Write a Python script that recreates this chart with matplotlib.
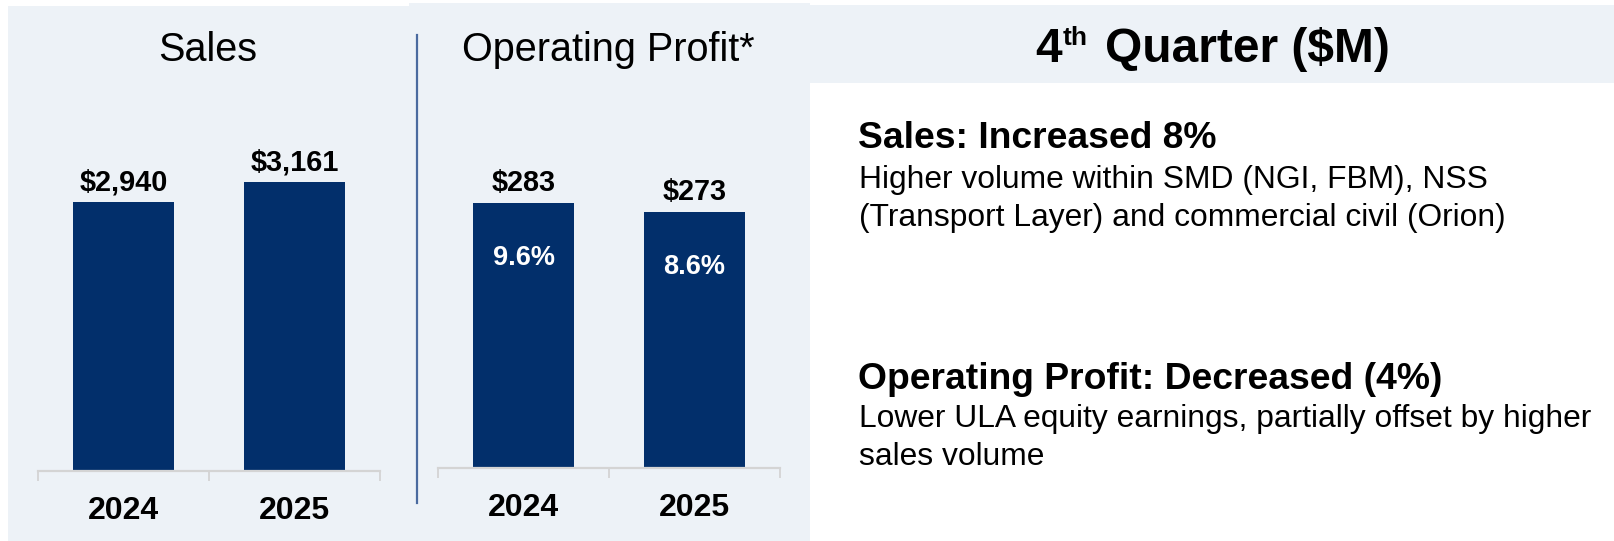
import matplotlib
matplotlib.use("Agg")
import matplotlib.pyplot as plt
from matplotlib.patches import Rectangle
from matplotlib.lines import Line2D

# ---------------- data ----------------
years = ["2024", "2025"]
sales = [2940, 3161]
sales_labels = ["$2,940", "$3,161"]
op_profit = [283, 273]
op_labels = ["$283", "$273"]
op_margin = ["9.6%", "8.6%"]

panel_titles = ["Sales", "Operating Profit*"]
header_main = "4"
header_sup = "th"
header_rest = "Quarter ($M)"
sales_head = "Sales: Increased 8%"
sales_lines = ["Higher volume within SMD (NGI, FBM), NSS",
               "(Transport Layer) and commercial civil (Orion)"]
op_head = "Operating Profit: Decreased (4%)"
op_lines = ["Lower ULA equity earnings, partially offset by higher",
            "sales volume"]

# ---------------- style ----------------
plt.rcParams["font.family"] = ["Liberation Sans", "DejaVu Sans"]
BG = "#edf2f7"
NAVY = "#022f6b"
AXIS = "#d4d4d4"
DIV = "#4a6a9f"

W, H = 1614, 541
fig = plt.figure(figsize=(W / 100, H / 100), dpi=100)
fig.patch.set_facecolor("white")


def fx(x):
    return x / W


def fy(y):
    return 1 - y / H


def rect(x0, y0, x1, y1, color):
    fig.add_artist(Rectangle((fx(x0), fy(y1)), fx(x1) - fx(x0), fy(y0) - fy(y1),
                             transform=fig.transFigure, facecolor=color,
                             edgecolor="none", zorder=0))


# backgrounds
rect(8, 6, 410, 541, BG)
rect(409, 3, 810, 541, BG)
rect(809, 5, 1614, 83, BG)


def bar_panel(left, right, base, top, values, ymax, labels, inner=None):
    ax = fig.add_axes([fx(left), fy(base), fx(right) - fx(left), (base - top) / H])
    ax.set_facecolor("none")
    xs = list(range(len(values)))
    ax.bar(xs, values, width=0.59, color=NAVY, zorder=2)
    ax.set_xlim(-0.5, len(values) - 0.5)
    ax.set_ylim(0, ymax)
    for s in ["top", "left", "right"]:
        ax.spines[s].set_visible(False)
    ax.spines["bottom"].set_color(AXIS)
    ax.spines["bottom"].set_linewidth(1.6)
    ax.set_yticks([])
    ax.set_xticks(xs)
    ax.set_xticklabels([])
    ax.tick_params(axis="x", which="major", length=0)
    ax.set_xticks([i - 0.5 for i in range(len(values) + 1)], minor=True)
    ax.tick_params(axis="x", which="minor", length=7.5, width=1.3,
                   color=AXIS, direction="out")
    for i, (v, lab) in enumerate(zip(values, labels)):
        ax.annotate(lab, xy=(i, v), xytext=(0, 12), textcoords="offset pixels",
                    ha="center", va="baseline", fontsize=20.8, fontweight="bold",
                    color="black", annotation_clip=False)
        ax.annotate(years[i], xy=(i, 0), xytext=(0, -48), textcoords="offset pixels",
                    ha="center", va="baseline", fontsize=23, fontweight="bold",
                    color="black", annotation_clip=False)
        if inner is not None:
            ax.annotate(inner[i], xy=(i, v), xytext=(0, -62), textcoords="offset pixels",
                        ha="center", va="baseline", fontsize=19.5, fontweight="bold",
                        color="white", annotation_clip=False)
    return ax


bar_panel(38, 380, 471, 100, sales, 4060, sales_labels)
bar_panel(438, 780, 468, 100, op_profit, 393, op_labels, inner=op_margin)

# panel titles
fig.text(fx(208), fy(61), panel_titles[0], ha="center", va="baseline", fontsize=28.5)
fig.text(fx(608), fy(61), panel_titles[1], ha="center", va="baseline", fontsize=28.5)

# divider
fig.add_artist(Line2D([fx(416.5), fx(416.5)], [fy(35), fy(503)],
                      transform=fig.transFigure, color=DIV, lw=1.6))

# right header
fig.text(fx(1035), fy(62), header_main, ha="left", va="baseline",
         fontsize=34.5, fontweight="bold")
fig.text(fx(1063), fy(45), header_sup, ha="left", va="baseline",
         fontsize=19, fontweight="bold")
fig.text(fx(1105), fy(62), header_rest, ha="left", va="baseline",
         fontsize=34.5, fontweight="bold")

# right commentary
fig.text(fx(858), fy(148), sales_head, ha="left", va="baseline",
         fontsize=26.8, fontweight="bold")
for k, line in enumerate(sales_lines):
    fig.text(fx(859), fy(188 + 38 * k), line, ha="left", va="baseline", fontsize=22.9)

fig.text(fx(858), fy(389), op_head, ha="left", va="baseline",
         fontsize=26.8, fontweight="bold")
for k, line in enumerate(op_lines):
    fig.text(fx(859), fy(427 + 38 * k), line, ha="left", va="baseline", fontsize=22.9)

fig.savefig("out.png", dpi=100, facecolor="white")
